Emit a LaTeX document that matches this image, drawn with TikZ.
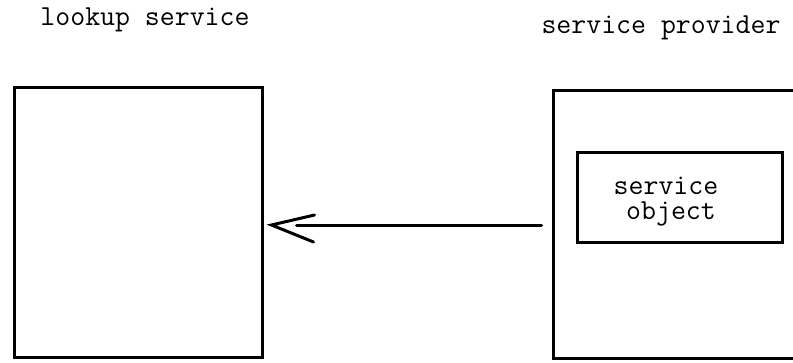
\documentclass[tikz,border=0pt]{standalone}
\usepackage{fontspec}
\begin{document}
\begin{tikzpicture}[x=1pt,y=-1pt,
  box/.style={draw=black,line width=3pt,inner sep=0pt},
  label/.style={font=\ttfamily\fontsize{29}{24}\selectfont,inner sep=0pt},
  link/.style={line width=3pt,line cap=round}]
  \clip (0,0) rectangle (793,362);
  % section captions
  \node[label] (cap1) at (145,20) {lookup service};
  \node[label] (cap2) at (661,28) {service provider};
  % lookup service box
  \node[box,minimum width=248pt,minimum height=270pt] (lookup) at (138,222) {};
  % service provider box (continues past the right edge)
  \node[box,minimum width=280pt,minimum height=268pt] (prov) at (693,224) {};
  % service object inside the provider
  \node[box,minimum width=205pt,minimum height=90pt] (obj) at (680,197) {};
  \node[label,anchor=base] (objtext1) at (666,194) {service};
  \node[label,anchor=base] (objtext2) at (671,219) {object};
  % registration arrow
  \coordinate (tip) at ([xshift=8pt]lookup.east |- 0,225);
  \draw[link] ([xshift=-10pt]prov.west |- 0,225) -- ([xshift=25pt]tip);
  \draw[link,line join=miter] ([shift={(42pt,-17pt)}]tip) -- (tip) -- ([shift={(43pt,10pt)}]tip);
\end{tikzpicture}
\end{document}
